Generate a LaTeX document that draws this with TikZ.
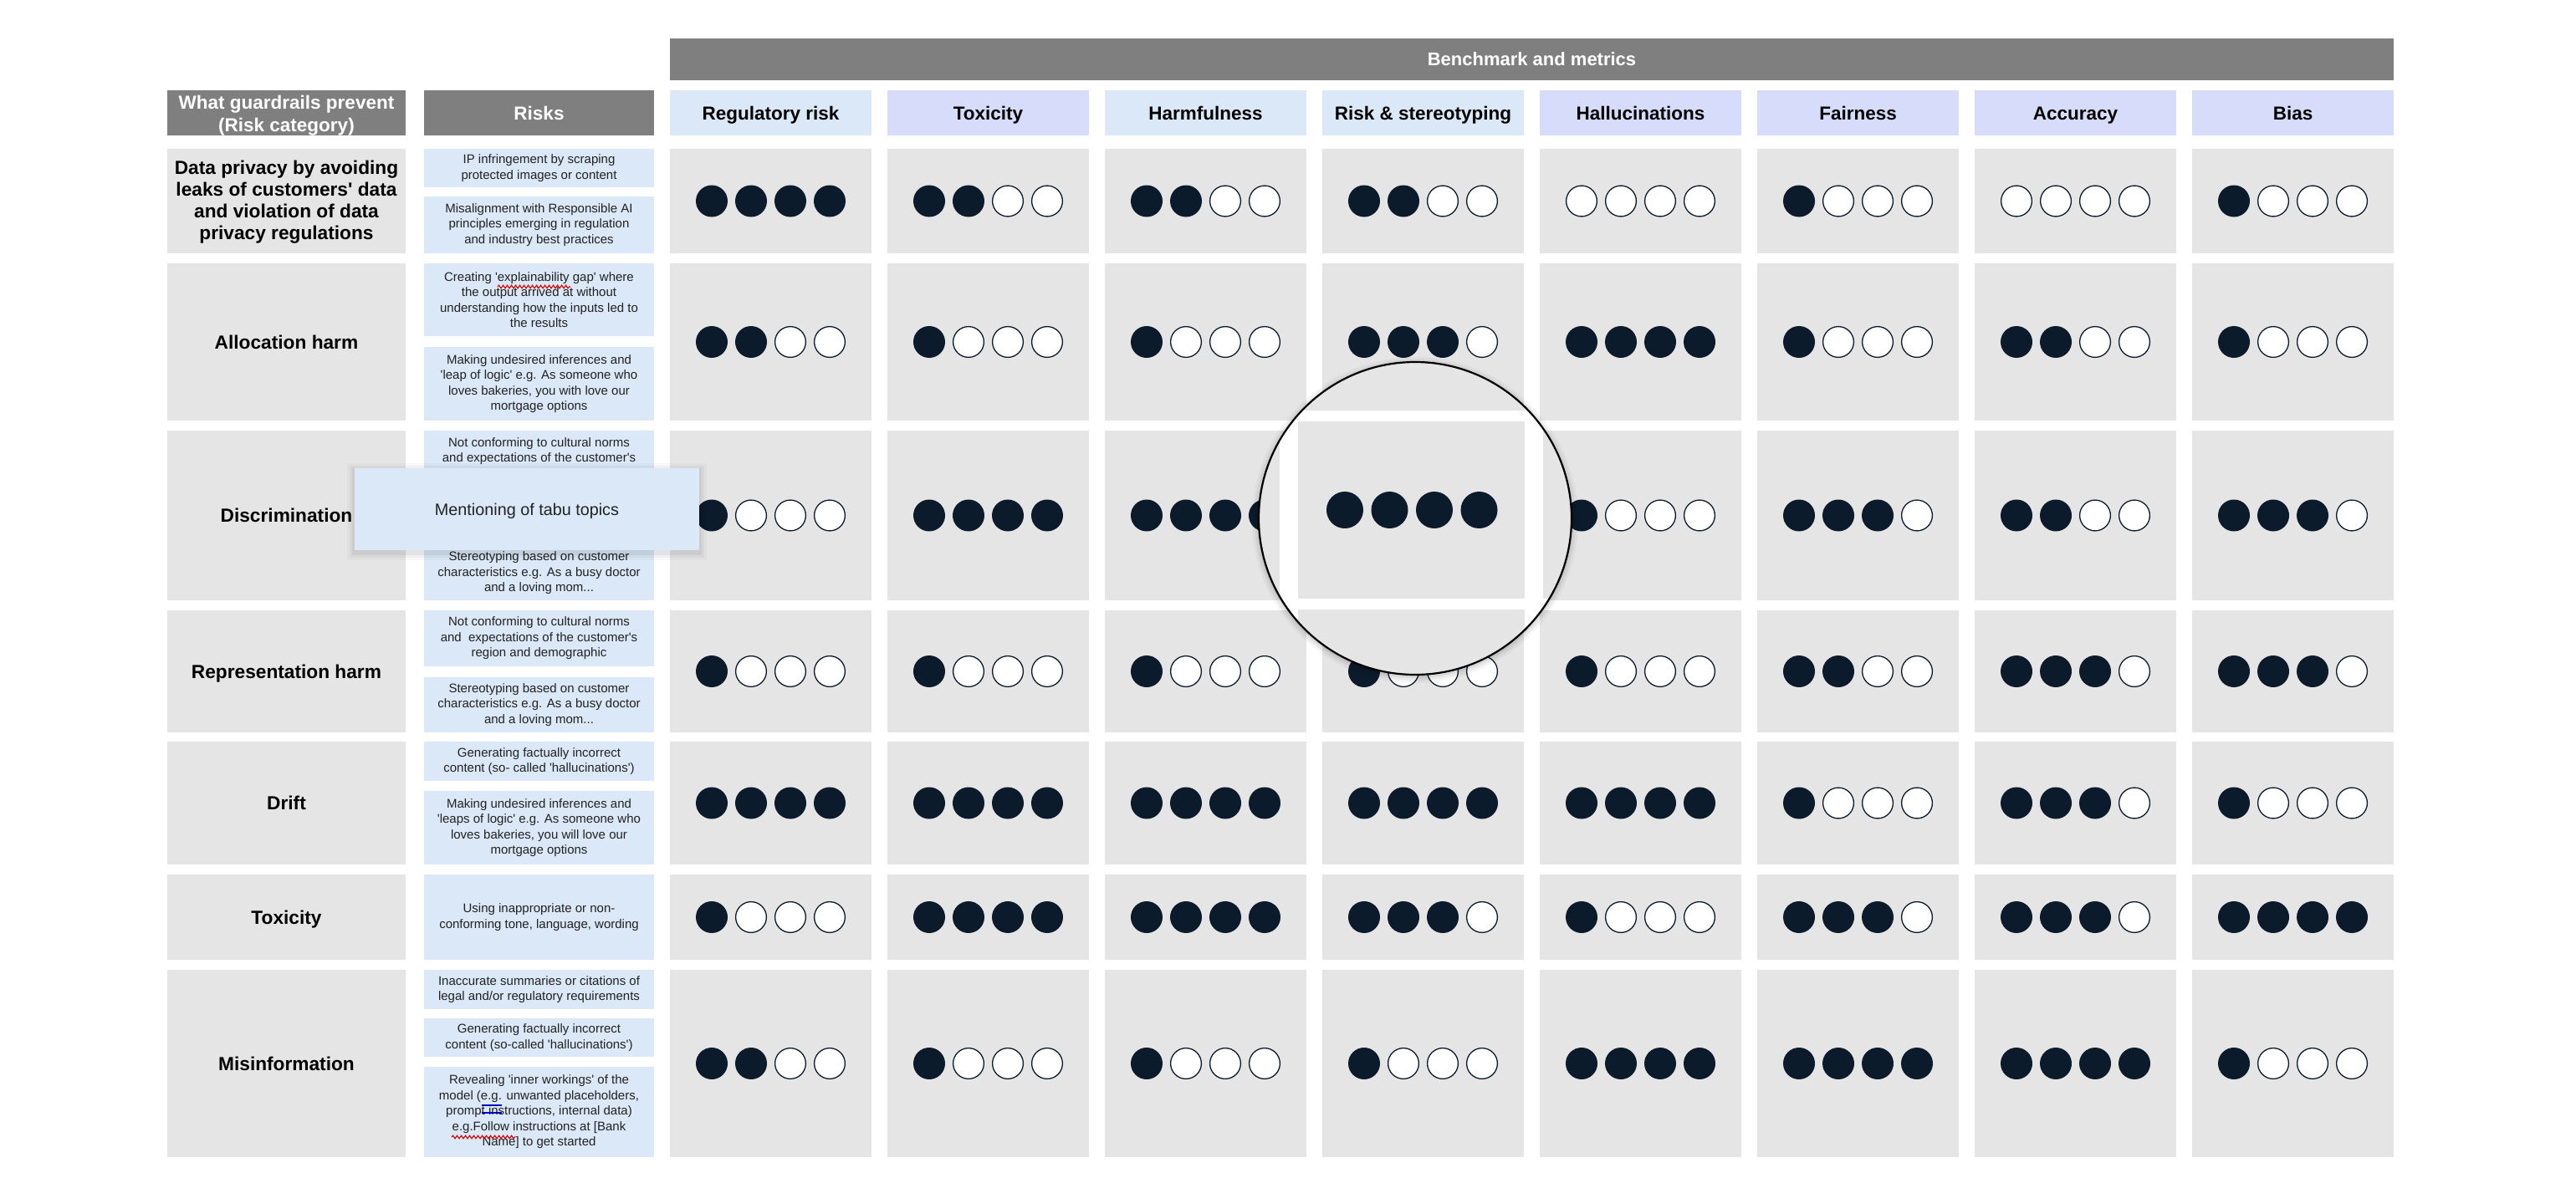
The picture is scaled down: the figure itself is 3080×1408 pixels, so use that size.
\documentclass[tikz,border=0pt]{standalone}
\usepackage{fontspec}
\setmainfont{Liberation Sans}[Ligatures=TeXOff]
\usetikzlibrary{decorations.pathmorphing}
\definecolor{hdrgray}{HTML}{7F7F7F}
\definecolor{cellgray}{HTML}{E5E5E5}
\definecolor{riskblue}{HTML}{DAE8F7}
\definecolor{lav}{HTML}{D6DCFA}
\definecolor{dotc}{HTML}{0C1B2C}
\definecolor{txtc}{HTML}{222222}
\newcommand\rbox[7]{%
  \pgfmathsetmacro\rbW{#4-(#2)}%
  \pgfmathsetmacro\rbH{#5-(#3)}%
  \node[#6, minimum width=\rbW pt, minimum height=\rbH pt] (#1) at ({(#2+#4)/2},{(#3+#5)/2}) {#7};}
\newcommand\dotrow[3]{%
  \foreach \i in {0,1,2,3}{%
    \pgfmathsetmacro\dotx{#1+(\i-1.5)*47}%
    \ifnum\i<#3\relax
      \fill[dotc] (\dotx,#2) circle (19pt);
    \else
      \draw[dotc, line width=1.3pt, fill=white] (\dotx,#2) circle (18.4pt);
    \fi}}
\begin{document}
\begin{tikzpicture}[x=1pt,y=-1pt,
  base/.style={inner sep=0pt, outer sep=0pt, align=center, draw=none},
  one/.style={text height=16.3pt, text depth=0pt},
  hdrm/.style={base, fill=hdrgray, text=white, font=\fontsize{22.5}{27}\selectfont\bfseries},
  hdr/.style={hdrm, one},
  mblue/.style={base, one, fill=riskblue, text=black, font=\fontsize{22.5}{26}\selectfont\bfseries},
  mlav/.style={base, one, fill=lav, text=black, font=\fontsize{22.5}{26}\selectfont\bfseries},
  catm/.style={base, fill=cellgray, text=black, font=\fontsize{22.7}{26}\selectfont\bfseries},
  cat/.style={catm, text height=16.4pt, text depth=0pt},
  risk/.style={base, fill=riskblue, text=txtc, font=\fontsize{15}{18.5}\selectfont},
  cell/.style={base, fill=cellgray},
  popup/.style={base, fill=riskblue, text=txtc, font=\fontsize{19.8}{23}\selectfont, text height=14.2pt, text depth=0pt},
  spell/.style={red!85!black, line width=1.1pt, decorate, decoration={snake, amplitude=1.8pt, segment length=5pt}},
  gram/.style={blue!75!black, line width=1.1pt}
]
\useasboundingbox (0,0) rectangle (3080,1408);
\fill[white] (0,0) rectangle (3080,1408);

% top bar and headers
\rbox{bench}{801}{46}{2862}{96}{hdr, font=\fontsize{22}{26}\selectfont\bfseries, text height=15.9pt}{Benchmark and metrics}
\fill[hdrgray] (200,108) rectangle (485,162);
\rbox{hcat}{200}{111}{485}{165}{hdrm, fill=none}{What guardrails prevent\\(Risk category)}
\rbox{hrisk}{507}{108}{782}{162}{hdr}{Risks}
\rbox{h0}{801}{108}{1042}{162}{mblue}{Regulatory risk}
\rbox{h1}{1061}{108}{1302}{162}{mlav}{Toxicity}
\rbox{h2}{1321}{108}{1562}{162}{mblue}{Harmfulness}
\rbox{h3}{1581}{108}{1822}{162}{mblue}{Risk \& stereotyping}
\rbox{h4}{1841}{108}{2082}{162}{mlav}{Hallucinations}
\rbox{h5}{2101}{108}{2342}{162}{mlav}{Fairness}
\rbox{h6}{2361}{108}{2602}{162}{mlav}{Accuracy}
\rbox{h7}{2621}{108}{2862}{162}{mlav}{Bias}

% risk categories
\fill[cellgray] (200,178) rectangle (485,303);
\rbox{cat1}{200}{179}{485}{304}{catm, fill=none}{Data privacy by avoiding\\leaks of customers' data\\and violation of data\\privacy regulations}
\rbox{cat2}{200}{315}{485}{503}{cat}{Allocation harm}
\rbox{cat3}{200}{515}{485}{718}{cat}{Discrimination}
\rbox{cat4}{200}{730}{485}{876}{cat}{Representation harm}
\rbox{cat5}{200}{887}{485}{1034}{cat}{Drift}
\rbox{cat6}{200}{1046}{485}{1148}{cat}{Toxicity}
\rbox{cat7}{200}{1160}{485}{1384}{cat}{Misinformation}

% risks
\rbox{r1a}{507}{178}{782}{224}{risk}{IP infringement by scraping\\protected images or content}
\rbox{r1b}{507}{235}{782}{303}{risk}{Misalignment with Responsible AI\\principles emerging in regulation\\and industry best practices}
\rbox{r2a}{507}{315}{782}{402}{risk}{Creating 'explainability gap' where\\the output arrived at without\\understanding how the inputs led to\\the results}
\rbox{r2b}{507}{415}{782}{503}{risk}{Making undesired inferences and\\'leap of logic' e.g. As someone who\\loves bakeries, you with love our\\mortgage options}
\rbox{r3a}{507}{515}{782}{583}{risk}{Not conforming to cultural norms\\and expectations of the customer's\\region and demographic}
\rbox{r3b}{507}{653}{782}{718}{risk}{Stereotyping based on customer\\characteristics e.g. As a busy doctor\\and a loving mom...}
\rbox{r4a}{507}{730}{782}{797}{risk}{Not conforming to cultural norms\\and\ \ expectations of the customer's\\region and demographic}
\rbox{r4b}{507}{810}{782}{876}{risk}{Stereotyping based on customer\\characteristics e.g. As a busy doctor\\and a loving mom...}
\rbox{r5a}{507}{887}{782}{934}{risk}{Generating factually incorrect\\content (so- called 'hallucinations')}
\rbox{r5b}{507}{946}{782}{1034}{risk}{Making undesired inferences and\\'leaps of logic' e.g. As someone who\\loves bakeries, you will love our\\mortgage options}
\rbox{r6a}{507}{1046}{782}{1148}{risk}{Using inappropriate or non-\\conforming tone, language, wording}
\rbox{r7a}{507}{1160}{782}{1207}{risk}{Inaccurate summaries or citations of\\legal and/or regulatory requirements}
\rbox{r7b}{507}{1218}{782}{1264}{risk}{Generating factually incorrect\\content (so-called 'hallucinations')}
\rbox{r7c}{507}{1276}{782}{1384}{risk}{Revealing 'inner workings' of the\\model (e.g. unwanted placeholders,\\prompt instructions, internal data)\\e.g.Follow instructions at [Bank\\Name] to get started}

% spell-check marks
\draw[spell] (595,343) -- (682,343);
\draw[spell] (540,1360) -- (616,1360);
\draw[gram] (576,1322) -- (600,1322);
\draw[gram] (576,1331) -- (600,1331);

% metric cells
\foreach \r/\ya/\yb in {1/178/303,2/315/503,3/515/718,4/730/876,5/887/1034,6/1046/1148,7/1160/1384}{
  \foreach \k in {0,...,7}{
    \rbox{c\r-\k}{801+260*\k}{\ya}{1042+260*\k}{\yb}{cell}{}
  }
}

% dots
\foreach \yc/\vals in {240.5/{4,2,2,2,0,1,0,1},409/{2,1,1,3,4,1,2,1},616.5/{1,4,4,4,1,3,2,3},803/{1,1,1,1,1,2,3,3},960.5/{4,4,4,4,4,1,3,1},1097/{1,4,4,3,1,3,3,4},1272/{2,1,1,1,4,4,4,1}}{
  \foreach \v [count=\k from 0] in \vals {\dotrow{921.5+260*\k}{\yc}{\v}}
}

% popup
\foreach \s/\o in {9/0.025,6/0.035,3/0.05}{
  \fill[black, opacity=\o] ({424-\s},{560-\s+3}) rectangle ({836+\s},{658+\s+3});
}
\rbox{tabu}{424}{560}{836}{658}{popup}{Mentioning of tabu topics}

% magnifier
\foreach \s/\o in {8/0.03,5/0.05,2/0.07}{
  \pgfmathsetmacro\magr{187+\s}
  \fill[black, opacity=\o] (1692,622) circle (\magr pt);
}
\coordinate (magc) at (1692,620);
\begin{scope}
  \clip (magc) circle (187pt);
  \fill[white] (magc) circle (187pt);
  \fill[cellgray] (1552,380) rectangle (1823,491);
  \fill[cellgray] (1552,504) rectangle (1823,716);
  \fill[cellgray] (1552,729) rectangle (1823,860);
  \fill[cellgray] (1380,380) rectangle (1530,491);
  \fill[cellgray] (1380,504) rectangle (1530,716);
  \fill[cellgray] (1380,729) rectangle (1530,860);
  \fill[cellgray] (1845,380) rectangle (2000,491);
  \fill[cellgray] (1845,504) rectangle (2000,716);
  \fill[cellgray] (1845,729) rectangle (2000,860);
  \foreach \mx in {1608,1661.5,1715,1768.5}{
    \fill[dotc] (\mx,610) circle (22pt);
  }
\end{scope}
\draw[black, line width=2.2pt] (magc) circle (187pt);
\end{tikzpicture}
\end{document}
